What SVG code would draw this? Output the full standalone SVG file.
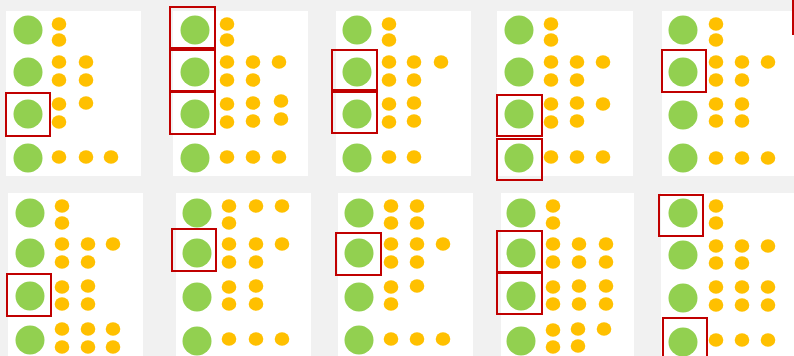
<svg xmlns="http://www.w3.org/2000/svg" width="794" height="356" viewBox="0 0 794 356">
<style>
.bg{fill:#f1f1f1}
.panel{fill:#ffffff}
.g{fill:#92d050}
.y{fill:#ffc000}
.sel{fill:none;stroke:#c00000;stroke-width:2}
</style>
<rect class="bg" x="0" y="0" width="794" height="356"/>

<g id="panel1">
<rect class="panel" x="6" y="11" width="135" height="165"/>
<circle class="g" cx="28" cy="30" r="14.5"/><circle class="g" cx="28" cy="72" r="14.5"/><circle class="g" cx="28" cy="114" r="14.5"/><circle class="g" cx="28" cy="158" r="14.5"/>
<ellipse class="y" cx="59" cy="24" rx="7.3" ry="6.8"/><ellipse class="y" cx="59" cy="40" rx="7.3" ry="6.8"/>
<ellipse class="y" cx="59" cy="62" rx="7.3" ry="6.8"/><ellipse class="y" cx="59" cy="80" rx="7.3" ry="6.8"/><ellipse class="y" cx="86" cy="62" rx="7.3" ry="6.8"/><ellipse class="y" cx="86" cy="80" rx="7.3" ry="6.8"/>
<ellipse class="y" cx="59" cy="104" rx="7.3" ry="6.8"/><ellipse class="y" cx="59" cy="122" rx="7.3" ry="6.8"/><ellipse class="y" cx="86" cy="103" rx="7.3" ry="6.8"/>
<ellipse class="y" cx="59" cy="157" rx="7.3" ry="6.8"/><ellipse class="y" cx="86" cy="157" rx="7.3" ry="6.8"/><ellipse class="y" cx="111" cy="157" rx="7.3" ry="6.8"/>
<rect class="sel" x="6" y="93" width="44" height="43"/>
</g>

<g id="panel2">
<rect class="panel" x="173" y="11" width="135" height="165"/>
<circle class="g" cx="195" cy="30" r="14.5"/><circle class="g" cx="195" cy="72" r="14.5"/><circle class="g" cx="195" cy="114" r="14.5"/><circle class="g" cx="195" cy="158" r="14.5"/>
<ellipse class="y" cx="227" cy="24" rx="7.3" ry="6.8"/><ellipse class="y" cx="227" cy="40" rx="7.3" ry="6.8"/>
<ellipse class="y" cx="227" cy="62" rx="7.3" ry="6.8"/><ellipse class="y" cx="227" cy="80" rx="7.3" ry="6.8"/><ellipse class="y" cx="253" cy="62" rx="7.3" ry="6.8"/><ellipse class="y" cx="253" cy="80" rx="7.3" ry="6.8"/><ellipse class="y" cx="279" cy="62" rx="7.3" ry="6.8"/>
<ellipse class="y" cx="227" cy="104" rx="7.3" ry="6.8"/><ellipse class="y" cx="227" cy="122" rx="7.3" ry="6.8"/><ellipse class="y" cx="253" cy="103" rx="7.3" ry="6.8"/><ellipse class="y" cx="253" cy="121" rx="7.3" ry="6.8"/><ellipse class="y" cx="281" cy="101" rx="7.3" ry="6.8"/><ellipse class="y" cx="281" cy="119" rx="7.3" ry="6.8"/>
<ellipse class="y" cx="227" cy="157" rx="7.3" ry="6.8"/><ellipse class="y" cx="253" cy="157" rx="7.3" ry="6.8"/><ellipse class="y" cx="279" cy="157" rx="7.3" ry="6.8"/>
<rect class="sel" x="170" y="7" width="45" height="41"/>
<rect class="sel" x="170" y="50" width="45" height="41"/>
<rect class="sel" x="170" y="92" width="45" height="42"/>
</g>

<g id="panel3">
<rect class="panel" x="336" y="11" width="135" height="165"/>
<circle class="g" cx="357" cy="30" r="14.5"/><circle class="g" cx="357" cy="72" r="14.5"/><circle class="g" cx="357" cy="114" r="14.5"/><circle class="g" cx="357" cy="158" r="14.5"/>
<ellipse class="y" cx="389" cy="24" rx="7.3" ry="6.8"/><ellipse class="y" cx="389" cy="40" rx="7.3" ry="6.8"/>
<ellipse class="y" cx="389" cy="62" rx="7.3" ry="6.8"/><ellipse class="y" cx="389" cy="80" rx="7.3" ry="6.8"/><ellipse class="y" cx="414" cy="62" rx="7.3" ry="6.8"/><ellipse class="y" cx="414" cy="80" rx="7.3" ry="6.8"/><ellipse class="y" cx="441" cy="62" rx="7.3" ry="6.8"/>
<ellipse class="y" cx="389" cy="104" rx="7.3" ry="6.8"/><ellipse class="y" cx="389" cy="122" rx="7.3" ry="6.8"/><ellipse class="y" cx="414" cy="103" rx="7.3" ry="6.8"/><ellipse class="y" cx="414" cy="121" rx="7.3" ry="6.8"/>
<ellipse class="y" cx="389" cy="157" rx="7.3" ry="6.8"/><ellipse class="y" cx="414" cy="157" rx="7.3" ry="6.8"/>
<rect class="sel" x="332" y="50" width="45" height="40"/>
<rect class="sel" x="332" y="92" width="45" height="41"/>
</g>

<g id="panel4">
<rect class="panel" x="497" y="11" width="136" height="165"/>
<circle class="g" cx="519" cy="30" r="14.5"/><circle class="g" cx="519" cy="72" r="14.5"/><circle class="g" cx="519" cy="114" r="14.5"/><circle class="g" cx="519" cy="158" r="14.5"/>
<ellipse class="y" cx="551" cy="24" rx="7.3" ry="6.8"/><ellipse class="y" cx="551" cy="40" rx="7.3" ry="6.8"/>
<ellipse class="y" cx="551" cy="62" rx="7.3" ry="6.8"/><ellipse class="y" cx="551" cy="80" rx="7.3" ry="6.8"/><ellipse class="y" cx="577" cy="62" rx="7.3" ry="6.8"/><ellipse class="y" cx="577" cy="80" rx="7.3" ry="6.8"/><ellipse class="y" cx="603" cy="62" rx="7.3" ry="6.8"/>
<ellipse class="y" cx="551" cy="104" rx="7.3" ry="6.8"/><ellipse class="y" cx="551" cy="122" rx="7.3" ry="6.8"/><ellipse class="y" cx="577" cy="103" rx="7.3" ry="6.8"/><ellipse class="y" cx="577" cy="121" rx="7.3" ry="6.8"/><ellipse class="y" cx="603" cy="104" rx="7.3" ry="6.8"/>
<ellipse class="y" cx="551" cy="157" rx="7.3" ry="6.8"/><ellipse class="y" cx="577" cy="157" rx="7.3" ry="6.8"/><ellipse class="y" cx="603" cy="157" rx="7.3" ry="6.8"/>
<rect class="sel" x="497" y="95" width="45" height="41"/>
<rect class="sel" x="497" y="139" width="45" height="41"/>
</g>

<g id="panel5">
<rect class="panel" x="662" y="11" width="132" height="165"/>
<circle class="g" cx="683" cy="30" r="14.5"/><circle class="g" cx="683" cy="72" r="14.5"/><circle class="g" cx="683" cy="115" r="14.5"/><circle class="g" cx="683" cy="158" r="14.5"/>
<ellipse class="y" cx="716" cy="24" rx="7.3" ry="6.8"/><ellipse class="y" cx="716" cy="40" rx="7.3" ry="6.8"/>
<ellipse class="y" cx="716" cy="62" rx="7.3" ry="6.8"/><ellipse class="y" cx="716" cy="80" rx="7.3" ry="6.8"/><ellipse class="y" cx="742" cy="62" rx="7.3" ry="6.8"/><ellipse class="y" cx="742" cy="80" rx="7.3" ry="6.8"/><ellipse class="y" cx="768" cy="62" rx="7.3" ry="6.8"/>
<ellipse class="y" cx="716" cy="104" rx="7.3" ry="6.8"/><ellipse class="y" cx="716" cy="121" rx="7.3" ry="6.8"/><ellipse class="y" cx="742" cy="104" rx="7.3" ry="6.8"/><ellipse class="y" cx="742" cy="121" rx="7.3" ry="6.8"/>
<ellipse class="y" cx="716" cy="158" rx="7.3" ry="6.8"/><ellipse class="y" cx="742" cy="158" rx="7.3" ry="6.8"/><ellipse class="y" cx="768" cy="158" rx="7.3" ry="6.8"/>
<rect class="sel" x="662" y="50" width="44" height="42"/>
<line class="sel" x1="793" y1="0" x2="793" y2="35"/>
</g>

<g id="panel6">
<rect class="panel" x="8" y="193" width="135" height="163"/>
<circle class="g" cx="30" cy="213" r="14.5"/><circle class="g" cx="30" cy="253" r="14.5"/><circle class="g" cx="30" cy="296" r="14.5"/><circle class="g" cx="30" cy="340" r="14.5"/>
<ellipse class="y" cx="62" cy="206" rx="7.3" ry="6.8"/><ellipse class="y" cx="62" cy="223" rx="7.3" ry="6.8"/>
<ellipse class="y" cx="62" cy="244" rx="7.3" ry="6.8"/><ellipse class="y" cx="62" cy="262" rx="7.3" ry="6.8"/><ellipse class="y" cx="88" cy="244" rx="7.3" ry="6.8"/><ellipse class="y" cx="88" cy="262" rx="7.3" ry="6.8"/><ellipse class="y" cx="113" cy="244" rx="7.3" ry="6.8"/>
<ellipse class="y" cx="62" cy="287" rx="7.3" ry="6.8"/><ellipse class="y" cx="62" cy="304" rx="7.3" ry="6.8"/><ellipse class="y" cx="88" cy="286" rx="7.3" ry="6.8"/><ellipse class="y" cx="88" cy="304" rx="7.3" ry="6.8"/>
<ellipse class="y" cx="62" cy="329" rx="7.3" ry="6.8"/><ellipse class="y" cx="62" cy="347" rx="7.3" ry="6.8"/><ellipse class="y" cx="88" cy="329" rx="7.3" ry="6.8"/><ellipse class="y" cx="88" cy="347" rx="7.3" ry="6.8"/><ellipse class="y" cx="113" cy="329" rx="7.3" ry="6.8"/><ellipse class="y" cx="113" cy="347" rx="7.3" ry="6.8"/>
<rect class="sel" x="7" y="274" width="44" height="42"/>
</g>

<g id="panel7">
<rect class="panel" x="176" y="193" width="135" height="163"/>
<circle class="g" cx="197" cy="213" r="14.5"/><circle class="g" cx="197" cy="253" r="14.5"/><circle class="g" cx="197" cy="297" r="14.5"/><circle class="g" cx="197" cy="341" r="14.5"/>
<ellipse class="y" cx="229" cy="206" rx="7.3" ry="6.8"/><ellipse class="y" cx="229" cy="223" rx="7.3" ry="6.8"/><ellipse class="y" cx="256" cy="206" rx="7.3" ry="6.8"/><ellipse class="y" cx="282" cy="206" rx="7.3" ry="6.8"/>
<ellipse class="y" cx="229" cy="244" rx="7.3" ry="6.8"/><ellipse class="y" cx="229" cy="262" rx="7.3" ry="6.8"/><ellipse class="y" cx="256" cy="244" rx="7.3" ry="6.8"/><ellipse class="y" cx="256" cy="262" rx="7.3" ry="6.8"/><ellipse class="y" cx="282" cy="244" rx="7.3" ry="6.8"/>
<ellipse class="y" cx="229" cy="287" rx="7.3" ry="6.8"/><ellipse class="y" cx="229" cy="304" rx="7.3" ry="6.8"/><ellipse class="y" cx="256" cy="286" rx="7.3" ry="6.8"/><ellipse class="y" cx="256" cy="304" rx="7.3" ry="6.8"/>
<ellipse class="y" cx="229" cy="339" rx="7.3" ry="6.8"/><ellipse class="y" cx="256" cy="339" rx="7.3" ry="6.8"/><ellipse class="y" cx="282" cy="339" rx="7.3" ry="6.8"/>
<rect class="sel" x="172" y="229" width="44" height="42"/>
</g>

<g id="panel8">
<rect class="panel" x="338" y="193" width="135" height="163"/>
<circle class="g" cx="359" cy="213" r="14.5"/><circle class="g" cx="359" cy="253" r="14.5"/><circle class="g" cx="359" cy="297" r="14.5"/><circle class="g" cx="359" cy="340" r="14.5"/>
<ellipse class="y" cx="391" cy="206" rx="7.3" ry="6.8"/><ellipse class="y" cx="391" cy="223" rx="7.3" ry="6.8"/><ellipse class="y" cx="417" cy="206" rx="7.3" ry="6.8"/><ellipse class="y" cx="417" cy="223" rx="7.3" ry="6.8"/>
<ellipse class="y" cx="391" cy="244" rx="7.3" ry="6.8"/><ellipse class="y" cx="391" cy="262" rx="7.3" ry="6.8"/><ellipse class="y" cx="417" cy="244" rx="7.3" ry="6.8"/><ellipse class="y" cx="417" cy="262" rx="7.3" ry="6.8"/><ellipse class="y" cx="443" cy="244" rx="7.3" ry="6.8"/>
<ellipse class="y" cx="391" cy="287" rx="7.3" ry="6.8"/><ellipse class="y" cx="391" cy="304" rx="7.3" ry="6.8"/><ellipse class="y" cx="417" cy="286" rx="7.3" ry="6.8"/>
<ellipse class="y" cx="391" cy="339" rx="7.3" ry="6.8"/><ellipse class="y" cx="417" cy="339" rx="7.3" ry="6.8"/><ellipse class="y" cx="443" cy="339" rx="7.3" ry="6.8"/>
<rect class="sel" x="336" y="233" width="45" height="42"/>
</g>

<g id="panel9">
<rect class="panel" x="501" y="193" width="133" height="163"/>
<circle class="g" cx="521" cy="213" r="14.5"/><circle class="g" cx="521" cy="253" r="14.5"/><circle class="g" cx="521" cy="296" r="14.5"/><circle class="g" cx="521" cy="341" r="14.5"/>
<ellipse class="y" cx="553" cy="206" rx="7.3" ry="6.8"/><ellipse class="y" cx="553" cy="223" rx="7.3" ry="6.8"/>
<ellipse class="y" cx="553" cy="244" rx="7.3" ry="6.8"/><ellipse class="y" cx="553" cy="262" rx="7.3" ry="6.8"/><ellipse class="y" cx="579" cy="244" rx="7.3" ry="6.8"/><ellipse class="y" cx="579" cy="262" rx="7.3" ry="6.8"/><ellipse class="y" cx="606" cy="244" rx="7.3" ry="6.8"/><ellipse class="y" cx="606" cy="262" rx="7.3" ry="6.8"/>
<ellipse class="y" cx="553" cy="287" rx="7.3" ry="6.8"/><ellipse class="y" cx="553" cy="304" rx="7.3" ry="6.8"/><ellipse class="y" cx="579" cy="286" rx="7.3" ry="6.8"/><ellipse class="y" cx="579" cy="304" rx="7.3" ry="6.8"/><ellipse class="y" cx="606" cy="286" rx="7.3" ry="6.8"/><ellipse class="y" cx="606" cy="304" rx="7.3" ry="6.8"/>
<ellipse class="y" cx="553" cy="330" rx="7.3" ry="6.8"/><ellipse class="y" cx="553" cy="347" rx="7.3" ry="6.8"/><ellipse class="y" cx="578" cy="329" rx="7.3" ry="6.8"/><ellipse class="y" cx="578" cy="346" rx="7.3" ry="6.8"/><ellipse class="y" cx="604" cy="329" rx="7.3" ry="6.8"/>
<rect class="sel" x="497" y="231" width="45" height="41"/>
<rect class="sel" x="497" y="273" width="45" height="41"/>
</g>

<g id="panel10">
<rect class="panel" x="661" y="193" width="133" height="163"/>
<circle class="g" cx="683" cy="213" r="14.5"/><circle class="g" cx="683" cy="255" r="14.5"/><circle class="g" cx="683" cy="298" r="14.5"/><circle class="g" cx="683" cy="342" r="14.5"/>
<ellipse class="y" cx="716" cy="206" rx="7.3" ry="6.8"/><ellipse class="y" cx="716" cy="223" rx="7.3" ry="6.8"/>
<ellipse class="y" cx="716" cy="246" rx="7.3" ry="6.8"/><ellipse class="y" cx="716" cy="263" rx="7.3" ry="6.8"/><ellipse class="y" cx="742" cy="246" rx="7.3" ry="6.8"/><ellipse class="y" cx="742" cy="263" rx="7.3" ry="6.8"/><ellipse class="y" cx="768" cy="246" rx="7.3" ry="6.8"/>
<ellipse class="y" cx="716" cy="287" rx="7.3" ry="6.8"/><ellipse class="y" cx="716" cy="305" rx="7.3" ry="6.8"/><ellipse class="y" cx="742" cy="287" rx="7.3" ry="6.8"/><ellipse class="y" cx="742" cy="305" rx="7.3" ry="6.8"/><ellipse class="y" cx="768" cy="287" rx="7.3" ry="6.8"/><ellipse class="y" cx="768" cy="305" rx="7.3" ry="6.8"/>
<ellipse class="y" cx="716" cy="340" rx="7.3" ry="6.8"/><ellipse class="y" cx="742" cy="340" rx="7.3" ry="6.8"/><ellipse class="y" cx="768" cy="340" rx="7.3" ry="6.8"/>
<rect class="sel" x="659" y="195" width="44" height="41"/>
<rect class="sel" x="663" y="318" width="44" height="45"/>
</g>
</svg>
